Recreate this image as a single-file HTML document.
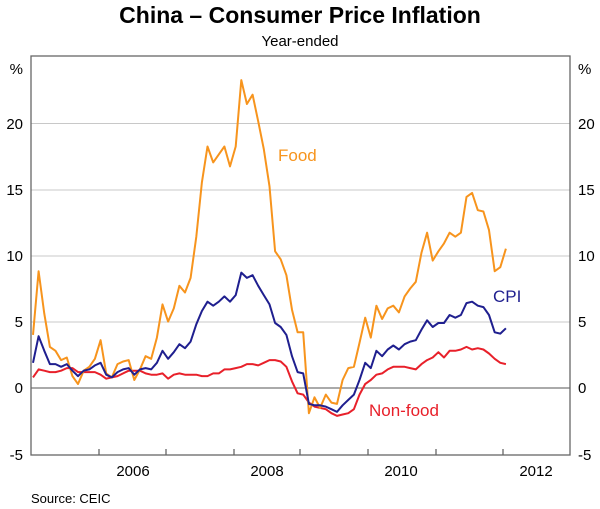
<!DOCTYPE html>
<html><head><meta charset="utf-8"><style>
body{margin:0;background:#fff;}
svg{display:block;font-family:"Liberation Sans",Arial,sans-serif;}
</style></head><body>
<svg id="s" width="600" height="509" xmlns="http://www.w3.org/2000/svg">
<text x="300" y="23" text-anchor="middle" font-size="23" font-weight="bold">China – Consumer Price Inflation</text>
<text x="300" y="46" text-anchor="middle" font-size="15">Year-ended</text>
<g stroke="#c8c8c8" stroke-width="1">
<line x1="31" x2="570" y1="123.5" y2="123.5"/><line x1="31" x2="570" y1="190" y2="190"/>
<line x1="31" x2="570" y1="256" y2="256"/><line x1="31" x2="570" y1="322" y2="322"/>
</g>
<line x1="31" x2="570" y1="388" y2="388" stroke="#555" stroke-width="1"/>
<rect x="31" y="56" width="539" height="399" fill="none" stroke="#666" stroke-width="1.3"/>
<g stroke="#666" stroke-width="1.3">
<line x1="99" x2="99" y1="455" y2="449"/><line x1="166" x2="166" y1="455" y2="449"/>
<line x1="234" x2="234" y1="455" y2="449"/><line x1="300" x2="300" y1="455" y2="449"/>
<line x1="368" x2="368" y1="455" y2="449"/><line x1="436" x2="436" y1="455" y2="449"/>
<line x1="503" x2="503" y1="455" y2="449"/>
</g>
<g font-size="15" text-anchor="end">
<text x="23" y="74">%</text><text x="23" y="129">20</text><text x="23" y="195">15</text>
<text x="23" y="261">10</text><text x="23" y="327">5</text><text x="23" y="393">0</text><text x="23" y="460">-5</text>
</g>
<g font-size="15" text-anchor="start">
<text x="578" y="74">%</text><text x="578" y="129">20</text><text x="578" y="195">15</text>
<text x="578" y="261">10</text><text x="578" y="327">5</text><text x="578" y="393">0</text><text x="578" y="460">-5</text>
</g>
<g font-size="15" text-anchor="middle">
<text x="133" y="476">2006</text><text x="267" y="476">2008</text><text x="401" y="476">2010</text><text x="536" y="476">2012</text>
</g>
<text x="31" y="503" font-size="13">Source: CEIC</text>
<text x="278" y="161" font-size="17" fill="#f7941d">Food</text>
<text x="493" y="302" font-size="17" fill="#1f1f8f">CPI</text>
<text x="369" y="416" font-size="17" fill="#e8202a">Non-food</text>
<g id="lines" fill="none" stroke-width="2" stroke-linejoin="round"></g>
</svg>
<script>
var food=[4.0,8.8,5.6,3.1,2.8,2.1,2.3,0.9,0.3,1.3,1.6,2.2,3.6,1.1,0.8,1.8,2.0,2.1,0.6,1.4,2.4,2.2,3.8,6.3,5.0,6.0,7.7,7.2,8.3,11.4,15.5,18.2,17.0,17.6,18.2,16.7,18.2,23.2,21.4,22.1,20.1,18.0,15.2,10.3,9.7,8.5,5.9,4.2,
4.2,-1.9,-0.7,-1.5,-0.5,-1.1,-1.2,0.6,1.5,1.6,3.4,5.3,3.8,6.2,5.2,6.0,6.2,5.7,6.9,7.5,8.0,10.2,11.7,9.6,10.3,10.9,11.7,11.4,11.7,14.4,14.7,13.4,13.3,11.9,8.8,9.1,10.5];
var cpi=[1.9,3.9,2.8,1.8,1.8,1.6,1.8,1.3,0.9,1.3,1.4,1.7,1.9,1.0,0.8,1.2,1.4,1.5,1.0,1.4,1.5,1.4,1.9,2.8,2.2,2.7,3.3,3.0,3.5,4.8,5.8,6.5,6.2,6.5,6.9,6.5,7.0,8.7,8.3,8.5,7.7,7.0,6.3,4.9,4.6,4.0,2.4,1.2,
1.1,-1.2,-1.3,-1.3,-1.4,-1.6,-1.8,-1.3,-0.9,-0.5,0.6,1.9,1.5,2.8,2.4,2.9,3.2,2.9,3.3,3.5,3.6,4.4,5.1,4.6,4.9,4.9,5.5,5.3,5.5,6.4,6.5,6.2,6.1,5.5,4.2,4.1,4.5];
var nf=[0.8,1.4,1.3,1.2,1.2,1.3,1.5,1.5,1.2,1.2,1.2,1.2,1.0,0.7,0.8,0.9,1.1,1.3,1.3,1.3,1.1,1.0,1.0,1.1,0.7,1.0,1.1,1.0,1.0,1.0,0.9,0.9,1.1,1.1,1.4,1.4,1.5,1.6,1.8,1.8,1.7,1.9,2.1,2.1,2.0,1.6,0.5,-0.4,
-0.5,-1.1,-1.4,-1.5,-1.6,-1.9,-2.1,-2.0,-1.9,-1.6,-0.5,0.3,0.6,1.0,1.1,1.4,1.6,1.6,1.6,1.5,1.4,1.8,2.1,2.3,2.7,2.3,2.8,2.8,2.9,3.1,2.9,3.0,2.9,2.6,2.2,1.9,1.8];
function path(d,c){var p=d.map(function(v,i){return (i?"L":"M")+(33+i*5.63).toFixed(1)+","+(388-v*13.27).toFixed(1)}).join("");
var e=document.createElementNS("http://www.w3.org/2000/svg","path");e.setAttribute("d",p);e.setAttribute("stroke",c);document.getElementById("lines").appendChild(e);}
path(nf,"#e8202a");path(food,"#f7941d");path(cpi,"#1f1f8f");
</script>
</body></html>
